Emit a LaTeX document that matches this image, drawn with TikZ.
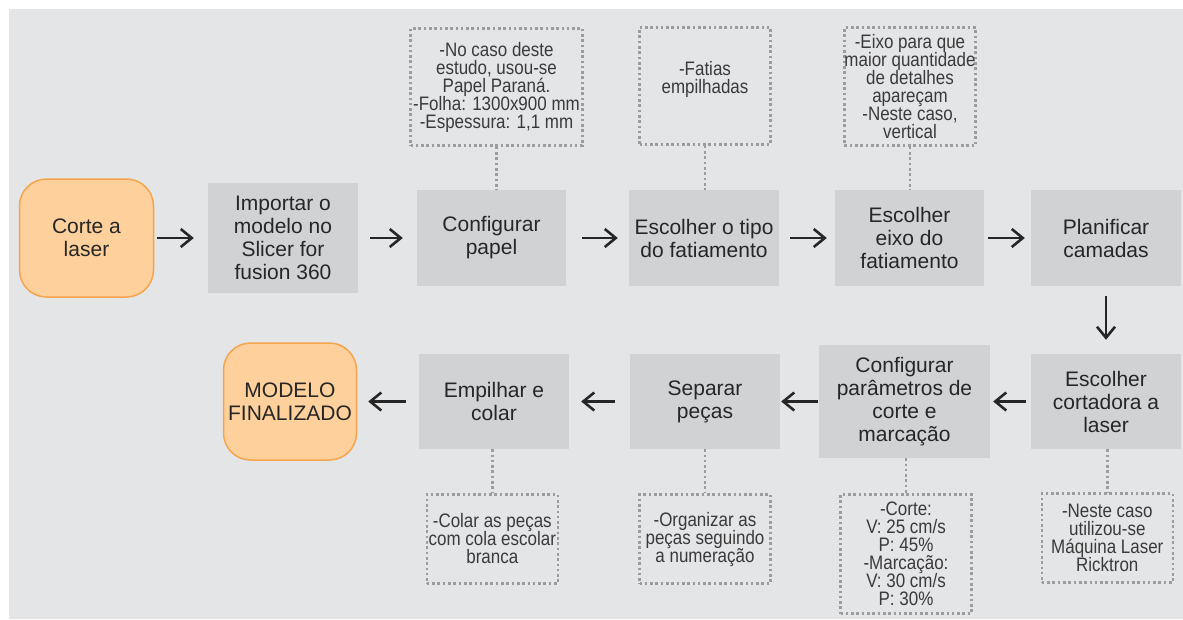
\documentclass[tikz,border=0pt]{standalone}
\usepackage{fontspec}
\setmainfont{Liberation Sans}
\newfontfamily\narrowfont[FakeStretch=0.87]{Liberation Sans}
\usetikzlibrary{arrows.meta}
\definecolor{bg}{HTML}{E4E5E7}
\definecolor{boxgray}{HTML}{D1D2D4}
\definecolor{orfill}{HTML}{FDD09C}
\definecolor{ordraw}{HTML}{F5A54E}
\definecolor{dotgray}{HTML}{9C9C9C}
\definecolor{txt}{HTML}{262626}
\definecolor{atxt}{HTML}{3A3A3A}
\newcommand{\mainsize}{\fontsize{21}{23}\selectfont\lineskiplimit-20pt\relax}
\newcommand{\annsize}{\narrowfont\fontsize{19.5}{18}\selectfont\lineskiplimit-20pt\relax}
\begin{document}
\begin{tikzpicture}[x=1pt,y=-1pt,
  proc/.style={font=\mainsize, fill=boxgray, draw=none, text=txt, align=center, inner sep=0pt},
  term/.style={font=\mainsize, fill=orfill, draw=ordraw, line width=1.5pt, rounded corners=27pt, text=txt, align=center, inner sep=0pt},
  annottext/.style={font=\annsize, text=atxt, align=center, inner sep=0pt},
  annot/.style={annottext, draw=dotgray, line width=2.6pt, dash pattern=on 2.6pt off 2.7pt},
  dotline/.style={draw=dotgray, line width=2.6pt, dash pattern=on 2.6pt off 2.7pt},
  arr/.style={draw=txt, line width=2.6pt, -{Straight Barb[length=11pt,width=18pt]}},
]
\useasboundingbox (0,0) rectangle (1183,619);
\fill[white] (0,0) rectangle (1183,619);
\fill[bg] (9,9) rectangle (1183,619);

% row 1
\node[term, minimum width=134pt, minimum height=118pt] (corte) at (86.5,238) {Corte a\\laser};
\node[proc, minimum width=150pt, minimum height=110pt] (imp) at (283,238) {Importar o\\modelo no\\Slicer for\\fusion 360};
\node[proc, minimum width=149pt, minimum height=96pt] (papel) at (491.5,238) {Configurar\\papel};
\node[proc, minimum width=150pt, minimum height=96pt] (tipo) at (704,238) {Escolher o tipo\\do fatiamento};
\node[proc, minimum width=149pt, minimum height=96pt] (eixo) at (909.5,238) {Escolher\\eixo do\\fatiamento};
\node[proc, minimum width=150pt, minimum height=96pt] (plan) at (1106,238) {Planificar\\camadas};

% row 2
\node[proc, minimum width=150pt, minimum height=95pt] (cort) at (1106,401.5) {Escolher\\cortadora a\\laser};
\node[proc, minimum width=171pt, minimum height=113pt] (param) at (904.5,401.5) {Configurar\\parâmetros de\\corte e\\marcação};
\node[proc, minimum width=150pt, minimum height=95pt] (sep) at (705,401.5) {Separar\\peças};
\node[proc, minimum width=150pt, minimum height=95pt] (emp) at (494,401.5) {Empilhar e\\colar};
\node[term, minimum width=133pt, minimum height=117pt] (fim) at (290,401.5) {MODELO\\FINALIZADO};

% annotations
\node[annot, minimum width=172pt, minimum height=117pt] (pa) at (496.5,87) {-No caso deste\\estudo, usou-se\\Papel Paraná.\\-Folha: 1300x900 mm\\-Espessura: 1,1 mm};
\node[annot, minimum width=131pt, minimum height=117pt] (ta) at (705,86) {};
\node[annottext] (tat) at (705,79) {-Fatias\\empilhadas};
\node[annot, minimum width=131pt, minimum height=118pt] (ea) at (910,86.5) {-Eixo para que\\maior quantidade\\de detalhes\\apareçam\\-Neste caso,\\vertical};
\node[annot, minimum width=131pt, minimum height=89pt] (empa) at (492.3,539) {-Colar as peças\\com cola escolar\\branca};
\node[annot, minimum width=131pt, minimum height=89pt] (sepa) at (705,539) {-Organizar as\\peças seguindo\\a numeração};
\node[annot, minimum width=131pt, minimum height=119pt] (parama) at (906,554) {-Corte:\\V: 25 cm/s\\P: 45\%\\-Marcação:\\V: 30 cm/s\\P: 30\%};
\node[annot, minimum width=131pt, minimum height=89pt] (corta) at (1107.3,538) {-Neste caso\\utilizou-se\\Máquina Laser\\Ricktron};

% dotted connectors
\draw[dotline] (pa.south) -- (papel.north -| pa.south);
\draw[dotline] (ta.south) -- (tipo.north -| ta.south);
\draw[dotline] (ea.south) -- (eixo.north -| ea.south);
\draw[dotline] (emp.south -| empa.north) -- (empa.north);
\draw[dotline] (sep.south -| sepa.north) -- (sepa.north);
\draw[dotline] (param.south -| parama.north) -- (parama.north);
\draw[dotline] (cort.south -| corta.north) -- (corta.north);

% arrows
\draw[arr, shorten <=3pt, shorten >=14pt] (corte.east) -- (imp.west);
\draw[arr, shorten <=12pt, shorten >=14pt] (imp.east) -- (papel.west);
\draw[arr, shorten <=16pt, shorten >=11pt] (papel.east) -- (tipo.west);
\draw[arr, shorten <=11pt, shorten >=8pt] (tipo.east) -- (eixo.west);
\draw[arr, shorten <=4pt, shorten >=6pt] (eixo.east) -- (plan.west);
\draw[arr, shorten <=10pt, shorten >=14pt] (plan.south) -- (cort.north);
\draw[arr, shorten <=5pt, shorten >=3pt] (cort.west) -- (param.east);
\draw[arr, shorten <=1pt, shorten >=1pt] (param.west) -- (sep.east);
\draw[arr, shorten <=15pt, shorten >=12pt] (sep.west) -- (emp.east);
\draw[arr, shorten <=13pt, shorten >=11pt] (emp.west) -- (fim.east);
\end{tikzpicture}
\end{document}
